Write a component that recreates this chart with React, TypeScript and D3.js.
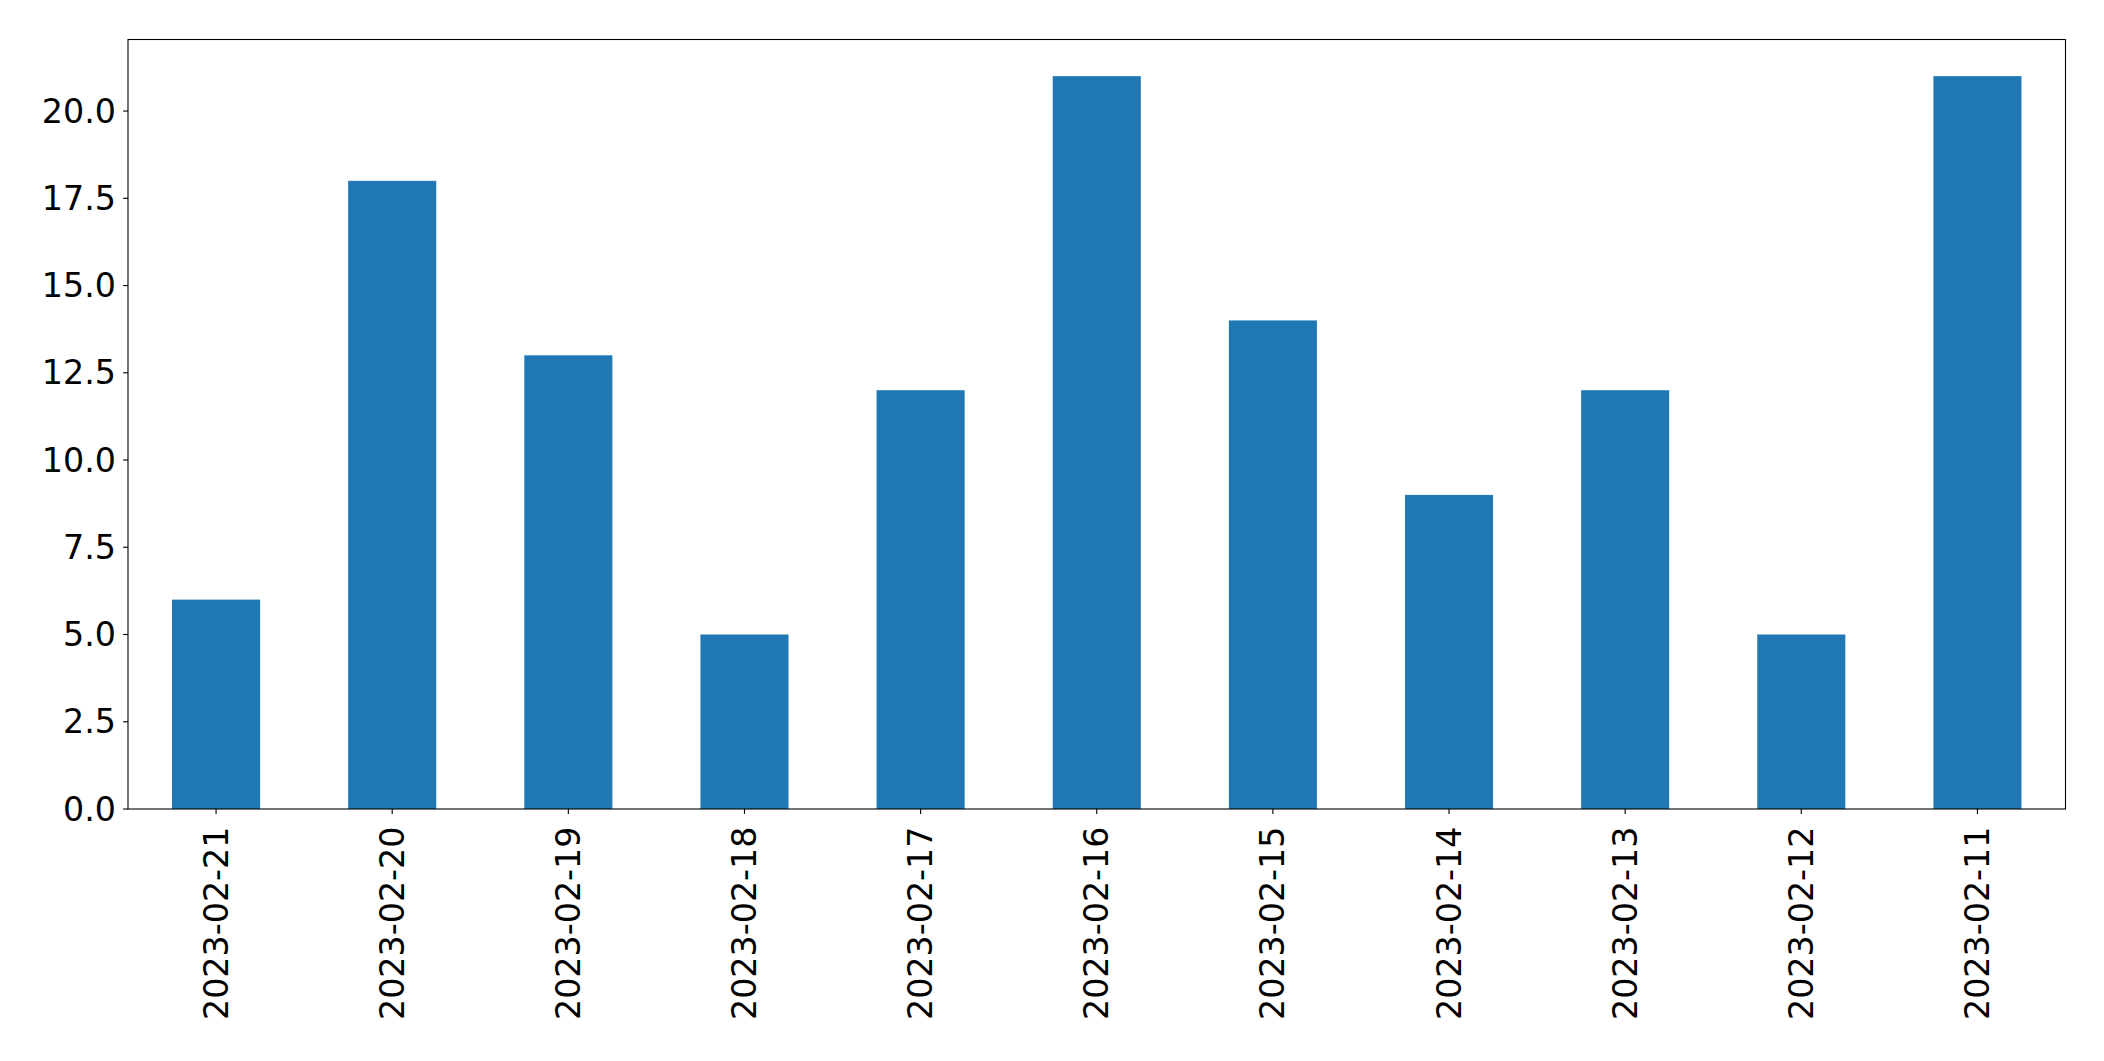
import React from "react";
import * as d3 from "d3";

const categories = ["2023-02-21","2023-02-20","2023-02-19","2023-02-18","2023-02-17","2023-02-16","2023-02-15","2023-02-14","2023-02-13","2023-02-12","2023-02-11"];
const values = [6, 18, 13, 5, 12, 21, 14, 9, 12, 5, 21];
const yTicks = [0, 2.5, 5, 7.5, 10, 12.5, 15, 17.5, 20];

const W = 2104, H = 1061;
const left = 128, right = 2065.5, top = 39.5, bottom = 809;
const font = "'DejaVu Sans', sans-serif";
const fs = 33.3;

export default function App() {
  const x = d3.scaleLinear().domain([-0.5, categories.length - 0.5]).range([left, right]);
  const y = d3.scaleLinear().domain([0, d3.max(values)! * 1.05]).range([bottom, top]);
  const bw = x(0.25) - x(-0.25);
  return (
    <svg width={W} height={H} style={{ position: "absolute", left: 0, top: 0, background: "#fff" }}>
      <rect x={0} y={0} width={W} height={H} fill="#fff" />
      {values.map((v, i) => (
        <rect key={i} x={x(i) - bw / 2} y={y(v)} width={bw} height={y(0) - y(v)} fill="#1f77b4" />
      ))}
      <rect x={left} y={top} width={right - left} height={bottom - top} fill="none" stroke="#000" strokeWidth={1.1} />
      {yTicks.map((t) => (
        <g key={t}>
          <line x1={left - 4.9} x2={left} y1={y(t)} y2={y(t)} stroke="#000" strokeWidth={1.1} />
          <text x={116} y={y(t)} textAnchor="end" dominantBaseline="central" fontFamily={font} fontSize={fs} fill="#000">
            {t.toFixed(1)}
          </text>
        </g>
      ))}
      {categories.map((c, i) => (
        <g key={c}>
          <line x1={x(i)} x2={x(i)} y1={bottom} y2={bottom + 4.9} stroke="#000" strokeWidth={1.1} />
          <text
            transform={`translate(${x(i)},${bottom + 17.5}) rotate(-90)`}
            textAnchor="end"
            dominantBaseline="central"
            fontFamily={font}
            fontSize={fs}
            fill="#000"
          >
            {c}
          </text>
        </g>
      ))}
    </svg>
  );
}
